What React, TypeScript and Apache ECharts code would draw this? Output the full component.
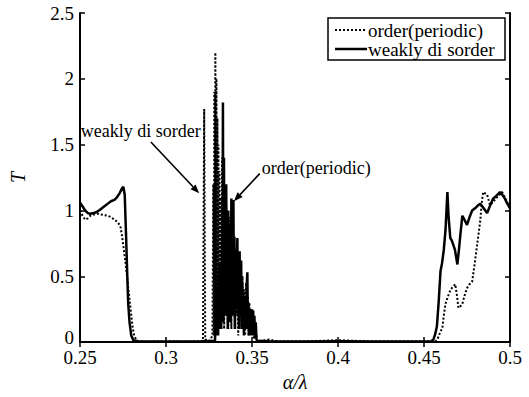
import React, { useEffect, useRef } from "react";
import * as echarts from "echarts";

// x ticks / y ticks
const xTicks = [0.25, 0.3, 0.35, 0.4, 0.45, 0.5];
const yTicks = [0, 0.5, 1, 1.5, 2, 2.5];

// order (periodic) – dotted curve, [alpha/lambda, T]
const periodicLeft: number[][] = [
  [0.25, 1.0], [0.2515, 0.96], [0.253, 0.93], [0.2545, 0.94], [0.256, 0.96], [0.258, 0.97],
  [0.26, 0.975], [0.262, 0.97], [0.264, 0.965], [0.266, 0.96], [0.268, 0.95], [0.27, 0.93],
  [0.272, 0.91], [0.2735, 0.88], [0.2745, 0.8], [0.2755, 0.7], [0.2765, 0.6], [0.2775, 0.48],
  [0.2785, 0.36], [0.2795, 0.24], [0.2805, 0.12], [0.2815, 0.05], [0.283, 0.01], [0.286, 0.005],
  [0.29, 0.003], [0.3, 0.006], [0.31, 0.003], [0.318, 0.005], [0.3215, 0.01], [0.3222, 1.77],
  [0.3228, 0.02], [0.3255, 0.01], [0.327, 0.05],
];
const periodicMid: number[][] = [
  [0.3275, 1.2], [0.3278, 0.05], [0.3281, 1.9], [0.3284, 0.1], [0.3287, 2.2], [0.329, 0.08],
  [0.3293, 2.0], [0.3296, 0.15], [0.3299, 1.7], [0.3302, 0.1], [0.3305, 1.5], [0.3308, 0.2],
  [0.3311, 1.3], [0.3314, 0.1], [0.3318, 1.1], [0.3322, 0.3], [0.3326, 1.4], [0.333, 0.2],
  [0.3334, 1.0], [0.3338, 0.1], [0.3342, 0.9], [0.3346, 0.3], [0.335, 1.05], [0.3354, 0.2],
  [0.3358, 0.8], [0.3362, 0.1], [0.3366, 0.95], [0.337, 0.2], [0.3375, 0.7], [0.338, 0.1],
  [0.3385, 0.85], [0.339, 0.3], [0.3395, 0.6], [0.34, 0.1], [0.3405, 0.7], [0.341, 0.2],
  [0.3415, 0.55], [0.342, 0.05], [0.3425, 0.6], [0.343, 0.2], [0.3435, 0.45], [0.344, 0.1],
  [0.3445, 0.5], [0.345, 0.15], [0.3455, 0.4], [0.346, 0.05], [0.3465, 0.45], [0.347, 0.1],
  [0.3475, 0.35], [0.348, 0.05], [0.3485, 0.3], [0.349, 0.1], [0.3495, 0.25], [0.35, 0.05],
  [0.3505, 0.2], [0.351, 0.02], [0.352, 0.1], [0.353, 0.01], [0.356, 0.01], [0.36, 0.02],
  [0.365, 0.005], [0.38, 0.004], [0.4, 0.015], [0.42, 0.004], [0.44, 0.005], [0.455, 0.004],
];
const periodicRight: number[][] = [
  [0.4565, 0.005], [0.4578, 0.02], [0.459, 0.06], [0.4607, 0.11], [0.4615, 0.2], [0.4625, 0.29],
  [0.464, 0.35], [0.4655, 0.4], [0.4668, 0.42], [0.4682, 0.44], [0.4692, 0.35], [0.47, 0.26],
  [0.471, 0.27], [0.4723, 0.29], [0.4735, 0.35], [0.475, 0.41], [0.4765, 0.44], [0.478, 0.46],
  [0.4795, 0.6], [0.4809, 0.74], [0.4827, 0.92], [0.4835, 1.05], [0.4844, 1.14], [0.4855, 1.13],
  [0.4867, 1.12], [0.4884, 1.04], [0.4905, 1.07], [0.4925, 1.1], [0.494, 1.12], [0.4954, 1.14],
  [0.497, 1.1], [0.4988, 1.05], [0.5, 1.0],
];

// weakly disorder – solid curve
const weakLeft: number[][] = [
  [0.25, 1.06], [0.2515, 1.03], [0.253, 1.0], [0.2545, 0.98], [0.256, 0.975], [0.258, 0.98],
  [0.26, 0.99], [0.262, 1.01], [0.264, 1.03], [0.266, 1.05], [0.268, 1.07], [0.27, 1.08],
  [0.2715, 1.1], [0.273, 1.13], [0.2745, 1.17], [0.2752, 1.18], [0.276, 1.12], [0.2768, 0.8],
  [0.2775, 0.5], [0.278, 0.3], [0.2788, 0.15], [0.2798, 0.05], [0.281, 0.015], [0.284, 0.005],
  [0.29, 0.004], [0.3, 0.004], [0.31, 0.004], [0.32, 0.004], [0.3285, 0.01],
];
const weakMid: number[][] = [
  [0.3288, 0.2], [0.329, 0.05], [0.3293, 0.35], [0.3296, 0.1], [0.33, 0.4], [0.3303, 0.05],
  [0.3306, 0.5], [0.3309, 0.1], [0.3312, 0.6], [0.3315, 0.2], [0.3318, 0.45], [0.3321, 0.1],
  [0.3325, 0.7], [0.3328, 0.2], [0.3331, 1.82], [0.3334, 0.15], [0.3337, 1.4], [0.334, 0.3],
  [0.3344, 0.9], [0.3347, 0.2], [0.335, 1.2], [0.3353, 0.3], [0.3356, 0.8], [0.3359, 0.1],
  [0.3362, 1.0], [0.3365, 0.35], [0.3368, 0.7], [0.3371, 0.15], [0.3374, 0.9], [0.3377, 0.3],
  [0.338, 1.09], [0.3383, 0.4], [0.3386, 1.07], [0.3389, 0.2], [0.3392, 1.08], [0.3395, 0.3],
  [0.3398, 0.8], [0.3401, 0.1], [0.3405, 0.7], [0.3408, 0.25], [0.3412, 0.6], [0.3415, 0.79],
  [0.3418, 0.2], [0.3421, 0.5], [0.3424, 0.1], [0.3428, 0.69], [0.3431, 0.2], [0.3434, 0.55],
  [0.3437, 0.62], [0.344, 0.1], [0.3443, 0.45], [0.3446, 0.2], [0.345, 0.4], [0.3453, 0.05],
  [0.3456, 0.35], [0.346, 0.15], [0.3463, 0.3], [0.3467, 0.1], [0.347, 0.45], [0.3473, 0.53],
  [0.3476, 0.1], [0.348, 0.3], [0.3483, 0.05], [0.3487, 0.25], [0.349, 0.1], [0.3494, 0.2],
  [0.3497, 0.05], [0.35, 0.25], [0.3503, 0.1], [0.3507, 0.24], [0.351, 0.05], [0.3514, 0.2],
  [0.3518, 0.03], [0.3522, 0.15], [0.3526, 0.02], [0.353, 0.01], [0.36, 0.006], [0.38, 0.004],
  [0.4, 0.006], [0.42, 0.004], [0.44, 0.004], [0.45, 0.004],
];
const weakRight: number[][] = [
  [0.454, 0.005], [0.4555, 0.02], [0.4565, 0.06], [0.4575, 0.12], [0.4585, 0.3], [0.4592, 0.45],
  [0.4596, 0.54], [0.4605, 0.6], [0.4615, 0.7], [0.4625, 0.85], [0.4636, 1.14], [0.4643, 0.95],
  [0.4653, 0.79], [0.4662, 0.77], [0.467, 0.74], [0.468, 0.7], [0.4694, 0.59], [0.4703, 0.7],
  [0.4711, 0.81], [0.4723, 0.96], [0.4735, 0.93], [0.475, 0.89], [0.4765, 0.95], [0.478, 1.0],
  [0.48, 1.02], [0.4815, 1.04], [0.4827, 1.05], [0.4845, 1.02], [0.4867, 0.98], [0.4885, 1.04],
  [0.4902, 1.09], [0.492, 1.11], [0.4942, 1.14], [0.4955, 1.12], [0.497, 1.09], [0.4985, 1.05],
  [0.5, 1.02],
];

const periodicData = [...periodicLeft, ...periodicMid, ...periodicRight];
const weakData = [...weakLeft, ...weakMid, ...weakRight];

const seriesNames = ["order(periodic)", "weakly di sorder"];

// annotations (data-space anchors)
const weakLabelAt = [0.2505, 1.6];
const weakArrowFrom = [0.2912, 1.52];
const weakArrowTo = [0.3193, 1.13];
const orderLabelAt = [0.3557, 1.32];
const orderArrowFrom = [0.3545, 1.28];
const orderArrowTo = [0.3395, 1.07];

const FONT = "Times New Roman, Liberation Serif, DejaVu Serif, serif";
const DOT: number[] = [2, 2];

function arrowGraphics(p0: number[], p1: number[]) {
  const dx = p1[0] - p0[0];
  const dy = p1[1] - p0[1];
  const len = Math.sqrt(dx * dx + dy * dy);
  const ux = dx / len;
  const uy = dy / len;
  const hl = 9;
  const hw = 3.5;
  const bx = p1[0] - ux * hl;
  const by = p1[1] - uy * hl;
  return [
    {
      type: "line",
      shape: { x1: p0[0], y1: p0[1], x2: bx, y2: by },
      style: { stroke: "#000", lineWidth: 1.6 },
      silent: true,
    },
    {
      type: "polygon",
      shape: {
        points: [
          [p1[0], p1[1]],
          [bx - uy * hw, by + ux * hw],
          [bx + uy * hw, by - ux * hw],
        ],
      },
      style: { fill: "#000" },
      silent: true,
    },
  ];
}

export default function App() {
  const ref = useRef<HTMLDivElement>(null);
  useEffect(() => {
    if (!ref.current) return;
    const chart = echarts.init(ref.current, undefined, { renderer: "svg" });
    const fmt = (v: number) => String(parseFloat(v.toFixed(2)));
    const axisCommon = {
      type: "value" as const,
      axisLine: { show: true, lineStyle: { color: "#000", width: 2 } },
      axisTick: { show: true, inside: true, length: 5, lineStyle: { color: "#000", width: 1.5 } },
      splitLine: { show: false },
    };
    chart.setOption({
      animation: false,
      backgroundColor: "#fff",
      textStyle: { fontFamily: FONT },
      grid: { left: 77, right: 19, top: 13, bottom: 52 },
      xAxis: [
        {
          ...axisCommon,
          min: xTicks[0],
          max: xTicks[xTicks.length - 1],
          interval: 0.05,
          position: "bottom",
          axisLabel: { color: "#000", fontFamily: FONT, fontSize: 19, margin: 6, formatter: fmt },
          name: "α/λ",
          nameLocation: "middle",
          nameGap: 27,
          nameTextStyle: { color: "#000", fontFamily: FONT, fontSize: 20, fontStyle: "italic" },
        },
        {
          ...axisCommon,
          min: xTicks[0],
          max: xTicks[xTicks.length - 1],
          interval: 0.05,
          position: "top",
          axisLabel: { show: false },
        },
      ],
      yAxis: [
        {
          ...axisCommon,
          min: yTicks[0],
          max: yTicks[yTicks.length - 1],
          interval: 0.5,
          position: "left",
          axisLabel: {
            color: "#000",
            fontFamily: FONT,
            fontSize: 19,
            margin: 6,
            formatter: (v: number) => (v === 0 ? "{z|0}" : fmt(v)),
            rich: { z: { fontFamily: FONT, fontSize: 19, color: "#000", padding: [0, 0, 10, 0] } },
          },
          name: "T",
          nameLocation: "middle",
          nameGap: 52,
          nameRotate: 90,
          nameTextStyle: { color: "#000", fontFamily: FONT, fontSize: 20, fontStyle: "italic" },
        },
        {
          ...axisCommon,
          min: yTicks[0],
          max: yTicks[yTicks.length - 1],
          interval: 0.5,
          position: "right",
          axisLabel: { show: false },
        },
      ],
      series: [
        {
          name: seriesNames[0],
          type: "line",
          data: periodicData,
          showSymbol: false,
          lineStyle: { color: "#000", width: 2, type: DOT },
          z: 2,
        },
        {
          name: seriesNames[1],
          type: "line",
          data: weakData,
          showSymbol: false,
          lineStyle: { color: "#000", width: 2.5 },
          z: 3,
        },
      ],
    });

    const px = (p: number[]) => chart.convertToPixel({ gridIndex: 0 }, p) as number[];
    const wl = px(weakLabelAt);
    const ol = px(orderLabelAt);
    const textEl = (t: string, x: number, y: number, size: number) => ({
      type: "text",
      x,
      y,
      silent: true,
      style: {
        text: t,
        fill: "#000",
        fontFamily: FONT,
        fontSize: size,
        verticalAlign: "middle",
      },
    });
    const legX = 328;
    const legY = 18;
    const legW = 177;
    const legH = 42;
    chart.setOption({
      graphic: [
        textEl(seriesNames[1], wl[0], wl[1], 18),
        textEl(seriesNames[0], ol[0], ol[1], 18),
        ...arrowGraphics(px(weakArrowFrom), px(weakArrowTo)),
        ...arrowGraphics(px(orderArrowFrom), px(orderArrowTo)),
        {
          type: "rect",
          shape: { x: legX, y: legY, width: legW, height: legH },
          style: { fill: "#fff", stroke: "#000", lineWidth: 1.5 },
          z: 10,
          silent: true,
        },
        {
          type: "line",
          shape: { x1: legX + 7, y1: legY + 12, x2: legX + 39, y2: legY + 12 },
          style: { stroke: "#000", lineWidth: 2, lineDash: DOT },
          z: 11,
          silent: true,
        },
        {
          type: "line",
          shape: { x1: legX + 7, y1: legY + 31, x2: legX + 39, y2: legY + 31 },
          style: { stroke: "#000", lineWidth: 2.5 },
          z: 11,
          silent: true,
        },
        { ...textEl(seriesNames[0], legX + 40, legY + 12, 19), z: 11 },
        { ...textEl(seriesNames[1], legX + 40, legY + 31, 19), z: 11 },
      ],
    });
    return () => chart.dispose();
  }, []);
  return (
    <div
      ref={ref}
      style={{ position: "fixed", left: 0, top: 0, width: 529, height: 397, background: "#fff" }}
    />
  );
}
